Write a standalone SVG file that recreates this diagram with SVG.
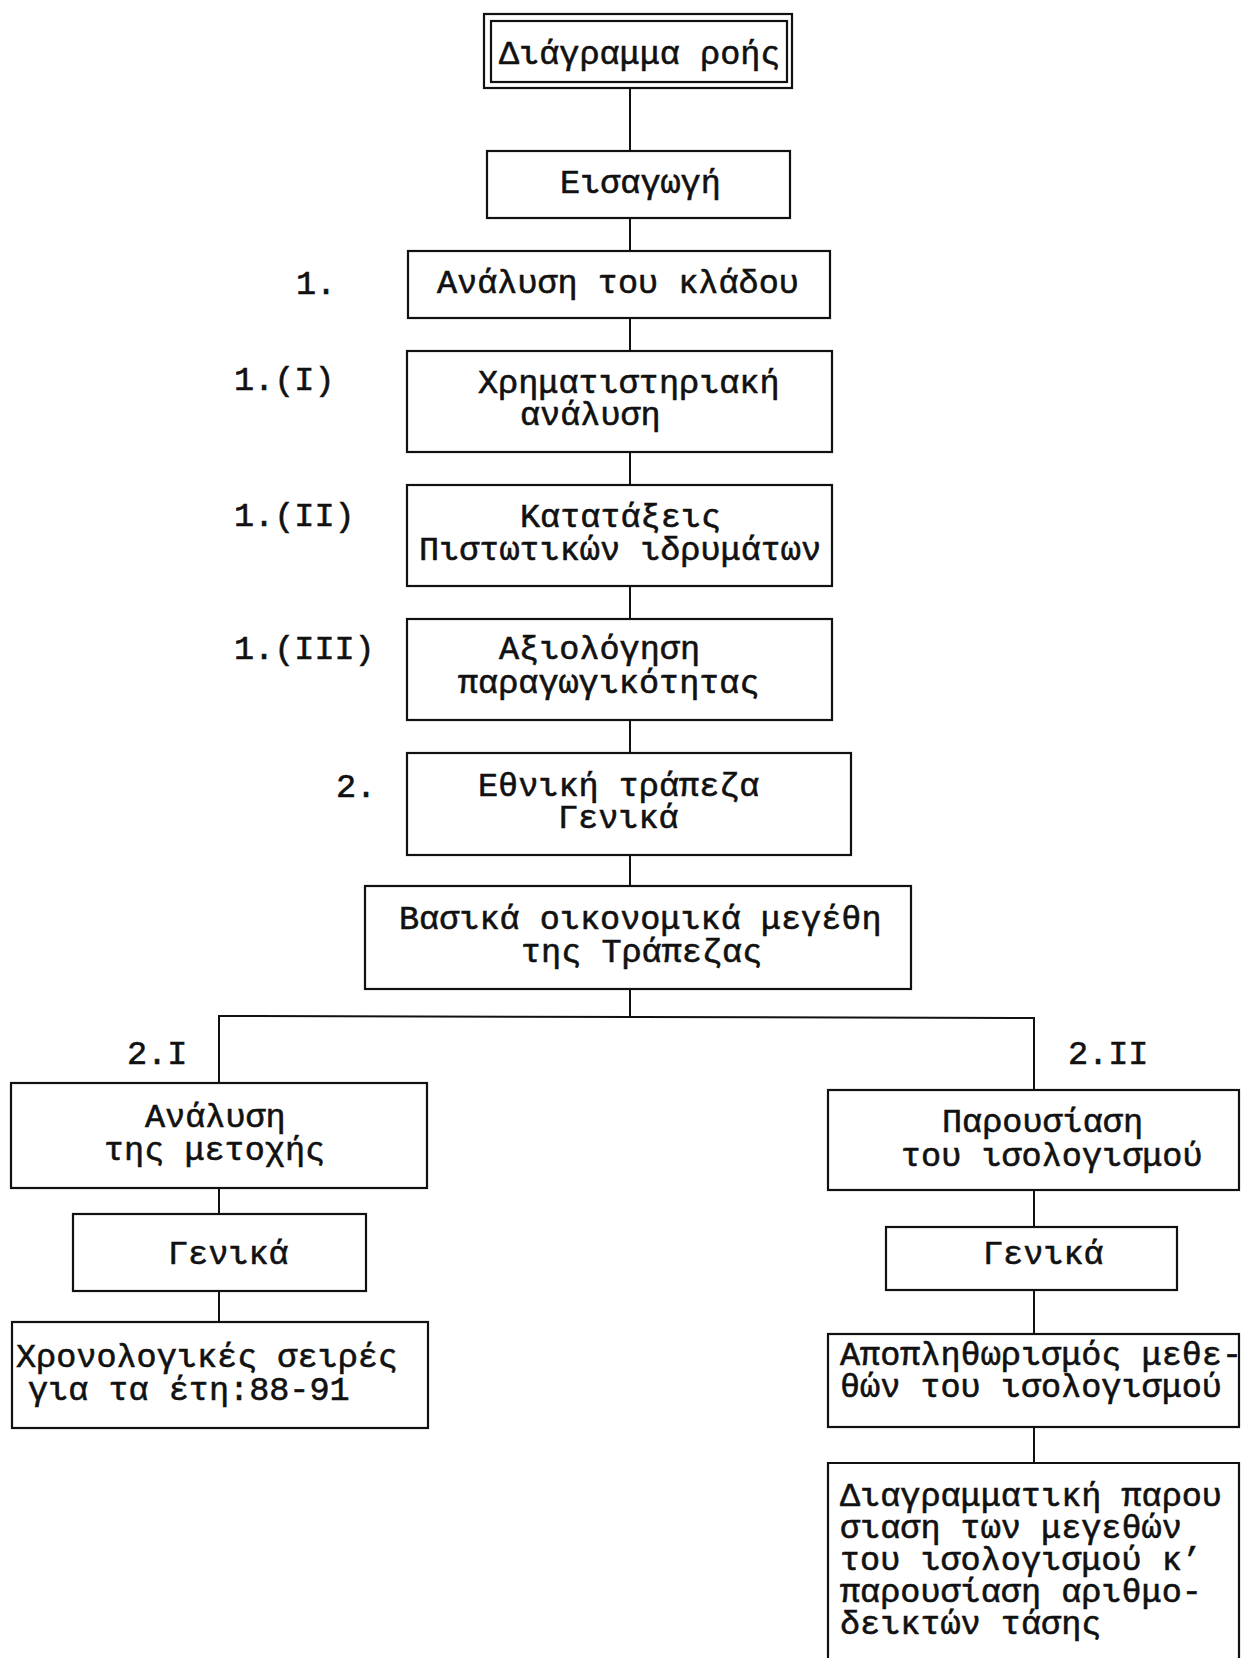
<svg xmlns="http://www.w3.org/2000/svg" width="1249" height="1658" viewBox="0 0 1249 1658">
<style>
.box{fill:none;stroke:#111;stroke-width:2.2}
.ln{fill:none;stroke:#111;stroke-width:2}
text{font-family:"Liberation Mono","DejaVu Sans Mono",monospace;font-size:33.5px;fill:#111;stroke:#111;stroke-width:0.6}
</style>
<rect width="1249" height="1658" fill="#fff"/>
<g id="connectors">
<line class="ln" x1="630" y1="88" x2="630" y2="151"/>
<line class="ln" x1="630" y1="218" x2="630" y2="251"/>
<line class="ln" x1="630" y1="318" x2="630" y2="351"/>
<line class="ln" x1="630" y1="452" x2="630" y2="485"/>
<line class="ln" x1="630" y1="586" x2="630" y2="619"/>
<line class="ln" x1="630" y1="720" x2="630" y2="753"/>
<line class="ln" x1="630" y1="855" x2="630" y2="886"/>
<line class="ln" x1="630" y1="989" x2="630" y2="1017"/>
<polyline class="ln" points="219,1083 219,1016 1034,1018 1034,1090"/>
<line class="ln" x1="219" y1="1188" x2="219" y2="1214"/>
<line class="ln" x1="219" y1="1291" x2="219" y2="1322"/>
<line class="ln" x1="1034" y1="1190" x2="1034" y2="1227"/>
<line class="ln" x1="1034" y1="1290" x2="1034" y2="1334"/>
<line class="ln" x1="1034" y1="1427" x2="1034" y2="1463"/>
</g>
<g id="title">
<rect class="box" x="484" y="14" width="308" height="74"/>
<rect class="box" x="491" y="21" width="296" height="61"/>
<text x="499" y="64">Διάγραμμα ροής</text>
</g>
<g id="eisagogi">
<rect class="box" x="487" y="151" width="303" height="67"/>
<text x="560" y="193">Εισαγωγή</text>
</g>
<g id="n1">
<rect class="box" x="408" y="251" width="422" height="67"/>
<text x="437" y="293">Ανάλυση του κλάδου</text>
<text x="296" y="294">1.</text>
</g>
<g id="n1I">
<rect class="box" x="407" y="351" width="425" height="101"/>
<text><tspan x="478" y="393">Χρηματιστηριακή</tspan><tspan x="520" y="425">ανάλυση</tspan></text>
<text x="234" y="390">1.(I)</text>
</g>
<g id="n1II">
<rect class="box" x="407" y="485" width="425" height="101"/>
<text><tspan x="520" y="527">Κατατάξεις</tspan><tspan x="419" y="560">Πιστωτικών ιδρυμάτων</tspan></text>
<text x="234" y="526">1.(II)</text>
</g>
<g id="n1III">
<rect class="box" x="407" y="619" width="425" height="101"/>
<text><tspan x="499" y="659">Αξιολόγηση</tspan><tspan x="458" y="693">παραγωγικότητας</tspan></text>
<text x="234" y="659">1.(III)</text>
</g>
<g id="n2">
<rect class="box" x="407" y="753" width="444" height="102"/>
<text><tspan x="478" y="796">Εθνική τράπεζα</tspan><tspan x="558" y="828">Γενικά</tspan></text>
<text x="336" y="797">2.</text>
</g>
<g id="basika">
<rect class="box" x="365" y="886" width="546" height="103"/>
<text><tspan x="399" y="929">Βασικά οικονομικά μεγέθη</tspan><tspan x="521" y="962">της Τράπεζας</tspan></text>
</g>
<g id="n2I">
<rect class="box" x="11" y="1083" width="416" height="105"/>
<text><tspan x="145" y="1127">Ανάλυση</tspan><tspan x="104" y="1160">της μετοχής</tspan></text>
<text x="127" y="1064">2.I</text>
</g>
<g id="genika-left">
<rect class="box" x="73" y="1214" width="293" height="77"/>
<text x="168" y="1264">Γενικά</text>
</g>
<g id="xronologikes">
<rect class="box" x="12" y="1322" width="416" height="106"/>
<text><tspan x="16" y="1367">Χρονολογικές σειρές</tspan><tspan x="28" y="1400">για τα έτη:88-91</tspan></text>
</g>
<g id="n2II">
<rect class="box" x="828" y="1090" width="411" height="100"/>
<text><tspan x="942" y="1132">Παρουσίαση</tspan><tspan x="901" y="1166">του ισολογισμού</tspan></text>
<text x="1068" y="1064">2.II</text>
</g>
<g id="genika-right">
<rect class="box" x="886" y="1227" width="291" height="63"/>
<text x="983" y="1264">Γενικά</text>
</g>
<g id="apoplithorismos">
<rect class="box" x="828" y="1334" width="411" height="93"/>
<text><tspan x="840" y="1365">Αποπληθωρισμός μεθε-</tspan><tspan x="840" y="1397">θών του ισολογισμού</tspan></text>
</g>
<g id="diagrammatiki">
<path class="box" d="M828,1670 V1463 H1239 V1670"/>
<text><tspan x="840" y="1506">Διαγραμματική παρου</tspan><tspan x="840" y="1538">σιαση των μεγεθών</tspan><tspan x="840" y="1570">του ισολογισμού κ’</tspan><tspan x="840" y="1602">παρουσίαση αριθμο-</tspan><tspan x="840" y="1634">δεικτών τάσης</tspan></text>
</g>
</svg>
